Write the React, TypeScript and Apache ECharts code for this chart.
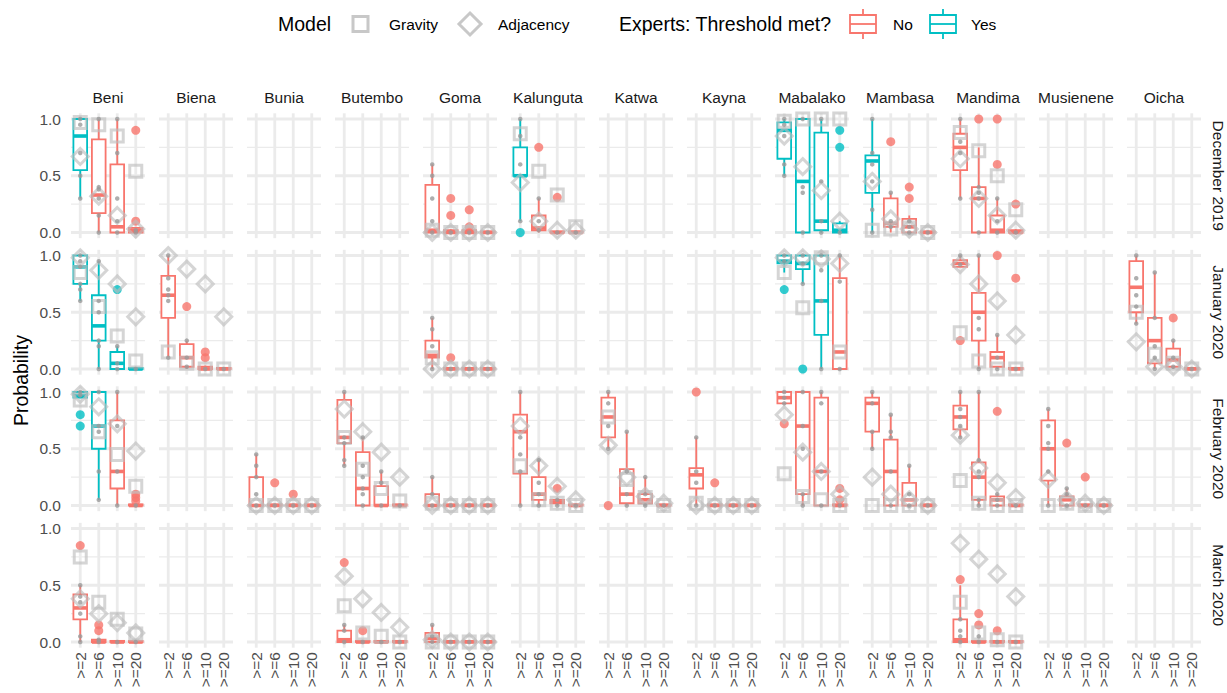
import React, { useEffect, useRef } from "react";
import * as echarts from "echarts";

const districts = ["Beni", "Biena", "Bunia", "Butembo", "Goma", "Kalunguta", "Katwa", "Kayna", "Mabalako", "Mambasa", "Mandima", "Musienene", "Oicha"];
const months = ["December 2019", "January 2020", "February 2020", "March 2020"];
const thresholds = [">=2", ">=6", ">=10", ">=20"];

// [district, threshold index, lower whisker, q1, median, q3, upper whisker, threshold met (1 = Yes)]
type Box = [string, number, number, number, number, number, number, number];
// [district, threshold index, value]
type Pt = [string, number, number];
// [district, threshold index, values]
type Dots = [string, number, number[]];
// [district, values per threshold]
type Model = [string, number[]];

const boxesDec2019: Box[] = [
  ["Beni", 0, 0.30, 0.55, 0.85, 1.00, 1.00, 1],
  ["Beni", 1, 0.00, 0.17, 0.33, 0.82, 1.00, 0],
  ["Beni", 2, 0.00, 0.00, 0.05, 0.60, 1.00, 0],
  ["Beni", 3, 0.00, 0.00, 0.02, 0.04, 0.05, 0],
  ["Goma", 0, 0.00, 0.00, 0.02, 0.42, 0.60, 0],
  ["Goma", 1, 0.00, 0.00, 0.00, 0.02, 0.03, 0],
  ["Goma", 2, 0.00, 0.00, 0.00, 0.02, 0.03, 0],
  ["Goma", 3, 0.00, 0.00, 0.00, 0.01, 0.01, 0],
  ["Kalunguta", 0, 0.10, 0.50, 0.50, 0.75, 1.00, 1],
  ["Kalunguta", 1, 0.00, 0.02, 0.04, 0.15, 0.30, 0],
  ["Kalunguta", 2, 0.00, 0.00, 0.00, 0.01, 0.01, 0],
  ["Kalunguta", 3, 0.00, 0.00, 0.00, 0.01, 0.01, 0],
  ["Mabalako", 0, 0.50, 0.65, 0.90, 0.97, 1.00, 1],
  ["Mabalako", 1, 0.00, 0.00, 0.45, 1.00, 1.00, 1],
  ["Mabalako", 2, 0.00, 0.02, 0.10, 0.88, 1.00, 1],
  ["Mabalako", 3, 0.00, 0.00, 0.02, 0.08, 0.10, 1],
  ["Mambasa", 0, 0.00, 0.35, 0.63, 0.68, 1.00, 1],
  ["Mambasa", 1, 0.00, 0.05, 0.08, 0.30, 0.35, 0],
  ["Mambasa", 2, 0.00, 0.00, 0.05, 0.12, 0.15, 0],
  ["Mambasa", 3, 0.00, 0.00, 0.00, 0.01, 0.01, 0],
  ["Mandima", 0, 0.30, 0.55, 0.75, 0.87, 1.00, 0],
  ["Mandima", 1, 0.00, 0.00, 0.30, 0.40, 0.75, 0],
  ["Mandima", 2, 0.00, 0.00, 0.02, 0.15, 0.30, 0],
  ["Mandima", 3, 0.00, 0.00, 0.00, 0.02, 0.03, 0],
];
const boxesJan2020: Box[] = [
  ["Beni", 0, 0.60, 0.75, 0.90, 1.00, 1.00, 1],
  ["Beni", 1, 0.00, 0.25, 0.38, 0.65, 0.95, 1],
  ["Beni", 2, 0.00, 0.00, 0.05, 0.15, 0.20, 1],
  ["Beni", 3, 0.00, 0.00, 0.00, 0.01, 0.01, 1],
  ["Biena", 0, 0.10, 0.45, 0.65, 0.82, 1.00, 0],
  ["Biena", 1, 0.00, 0.02, 0.10, 0.22, 0.25, 0],
  ["Biena", 2, 0.00, 0.00, 0.00, 0.02, 0.03, 0],
  ["Biena", 3, 0.00, 0.00, 0.00, 0.01, 0.01, 0],
  ["Goma", 0, 0.00, 0.10, 0.12, 0.25, 0.45, 0],
  ["Goma", 1, 0.00, 0.00, 0.00, 0.01, 0.01, 0],
  ["Goma", 2, 0.00, 0.00, 0.00, 0.01, 0.01, 0],
  ["Goma", 3, 0.00, 0.00, 0.00, 0.01, 0.01, 0],
  ["Mabalako", 0, 0.85, 0.93, 0.95, 1.00, 1.00, 1],
  ["Mabalako", 1, 0.75, 0.88, 0.93, 1.00, 1.00, 1],
  ["Mabalako", 2, 0.00, 0.30, 0.60, 1.00, 1.00, 1],
  ["Mabalako", 3, 0.00, 0.00, 0.15, 0.80, 1.00, 0],
  ["Mandima", 0, 0.90, 0.90, 0.93, 0.96, 1.00, 0],
  ["Mandima", 1, 0.00, 0.25, 0.50, 0.67, 1.00, 0],
  ["Mandima", 2, 0.00, 0.02, 0.10, 0.15, 0.30, 0],
  ["Mandima", 3, 0.00, 0.00, 0.00, 0.01, 0.01, 0],
  ["Oicha", 0, 0.40, 0.50, 0.72, 0.95, 1.00, 0],
  ["Oicha", 1, 0.00, 0.05, 0.25, 0.45, 0.85, 0],
  ["Oicha", 2, 0.00, 0.02, 0.08, 0.18, 0.25, 0],
  ["Oicha", 3, 0.00, 0.00, 0.00, 0.01, 0.01, 0],
];
const boxesFeb2020: Box[] = [
  ["Beni", 0, 0.95, 0.95, 0.97, 1.00, 1.00, 1],
  ["Beni", 1, 0.05, 0.50, 0.70, 1.00, 1.00, 1],
  ["Beni", 2, 0.00, 0.15, 0.30, 0.75, 1.00, 0],
  ["Beni", 3, 0.00, 0.00, 0.00, 0.01, 0.01, 0],
  ["Bunia", 0, 0.00, 0.00, 0.00, 0.25, 0.45, 0],
  ["Bunia", 1, 0.00, 0.00, 0.00, 0.01, 0.01, 0],
  ["Bunia", 2, 0.00, 0.00, 0.00, 0.01, 0.01, 0],
  ["Bunia", 3, 0.00, 0.00, 0.00, 0.01, 0.01, 0],
  ["Butembo", 0, 0.35, 0.55, 0.60, 0.93, 1.00, 0],
  ["Butembo", 1, 0.00, 0.00, 0.15, 0.47, 0.60, 0],
  ["Butembo", 2, 0.00, 0.00, 0.00, 0.17, 0.30, 0],
  ["Butembo", 3, 0.00, 0.00, 0.00, 0.01, 0.01, 0],
  ["Goma", 0, 0.00, 0.00, 0.00, 0.10, 0.25, 0],
  ["Goma", 1, 0.00, 0.00, 0.00, 0.01, 0.01, 0],
  ["Goma", 2, 0.00, 0.00, 0.00, 0.01, 0.01, 0],
  ["Goma", 3, 0.00, 0.00, 0.00, 0.01, 0.01, 0],
  ["Kalunguta", 0, 0.00, 0.28, 0.65, 0.80, 1.00, 0],
  ["Kalunguta", 1, 0.00, 0.05, 0.10, 0.25, 0.40, 0],
  ["Kalunguta", 2, 0.00, 0.02, 0.03, 0.05, 0.05, 0],
  ["Kalunguta", 3, 0.00, 0.00, 0.00, 0.01, 0.01, 0],
  ["Katwa", 0, 0.50, 0.60, 0.78, 0.95, 1.00, 0],
  ["Katwa", 1, 0.00, 0.02, 0.10, 0.32, 0.65, 0],
  ["Katwa", 2, 0.00, 0.02, 0.05, 0.10, 0.25, 0],
  ["Katwa", 3, 0.00, 0.00, 0.00, 0.01, 0.01, 0],
  ["Kayna", 0, 0.00, 0.15, 0.27, 0.33, 0.60, 0],
  ["Kayna", 1, 0.00, 0.00, 0.00, 0.01, 0.01, 0],
  ["Kayna", 2, 0.00, 0.00, 0.00, 0.01, 0.01, 0],
  ["Kayna", 3, 0.00, 0.00, 0.00, 0.01, 0.01, 0],
  ["Mabalako", 0, 0.90, 0.90, 0.95, 1.00, 1.00, 0],
  ["Mabalako", 1, 0.00, 0.10, 0.70, 1.00, 1.00, 0],
  ["Mabalako", 2, 0.00, 0.00, 0.30, 0.95, 1.00, 0],
  ["Mabalako", 3, 0.00, 0.00, 0.00, 0.01, 0.01, 0],
  ["Mambasa", 0, 0.50, 0.65, 0.90, 0.95, 1.00, 0],
  ["Mambasa", 1, 0.00, 0.00, 0.30, 0.58, 0.80, 0],
  ["Mambasa", 2, 0.00, 0.00, 0.05, 0.20, 0.35, 0],
  ["Mambasa", 3, 0.00, 0.00, 0.00, 0.01, 0.01, 0],
  ["Mandima", 0, 0.60, 0.67, 0.78, 0.88, 1.00, 0],
  ["Mandima", 1, 0.00, 0.05, 0.25, 0.38, 1.00, 0],
  ["Mandima", 2, 0.00, 0.00, 0.05, 0.08, 0.10, 0],
  ["Mandima", 3, 0.00, 0.00, 0.00, 0.01, 0.01, 0],
  ["Musienene", 0, 0.00, 0.22, 0.50, 0.75, 0.85, 0],
  ["Musienene", 1, 0.00, 0.00, 0.05, 0.08, 0.15, 0],
  ["Musienene", 2, 0.00, 0.00, 0.00, 0.01, 0.01, 0],
  ["Musienene", 3, 0.00, 0.00, 0.00, 0.01, 0.01, 0],
];
const boxesMar2020: Box[] = [
  ["Beni", 0, 0.00, 0.20, 0.30, 0.42, 0.50, 0],
  ["Beni", 1, 0.00, 0.00, 0.00, 0.02, 0.02, 0],
  ["Beni", 2, 0.00, 0.00, 0.00, 0.01, 0.01, 0],
  ["Beni", 3, 0.00, 0.00, 0.00, 0.01, 0.01, 0],
  ["Butembo", 0, 0.00, 0.00, 0.02, 0.10, 0.15, 0],
  ["Butembo", 1, 0.00, 0.00, 0.00, 0.01, 0.01, 0],
  ["Butembo", 2, 0.00, 0.00, 0.00, 0.01, 0.01, 0],
  ["Butembo", 3, 0.00, 0.00, 0.00, 0.01, 0.01, 0],
  ["Goma", 0, 0.00, 0.00, 0.03, 0.08, 0.15, 0],
  ["Goma", 1, 0.00, 0.00, 0.00, 0.01, 0.01, 0],
  ["Goma", 2, 0.00, 0.00, 0.00, 0.01, 0.01, 0],
  ["Goma", 3, 0.00, 0.00, 0.00, 0.01, 0.01, 0],
  ["Mandima", 0, 0.00, 0.00, 0.02, 0.20, 0.50, 0],
  ["Mandima", 1, 0.00, 0.00, 0.00, 0.01, 0.01, 0],
  ["Mandima", 2, 0.00, 0.00, 0.00, 0.01, 0.01, 0],
  ["Mandima", 3, 0.00, 0.00, 0.00, 0.01, 0.01, 0],
];

const outliersDec2019: Pt[] = [
  ["Beni", 3, 0.90], ["Beni", 3, 0.10],
  ["Goma", 1, 0.30], ["Goma", 1, 0.15], ["Goma", 2, 0.20], ["Goma", 2, 0.05],
  ["Kalunguta", 0, 0.00], ["Kalunguta", 1, 0.75], ["Kalunguta", 2, 0.31],
  ["Mabalako", 3, 0.90], ["Mabalako", 3, 0.75],
  ["Mambasa", 1, 0.80], ["Mambasa", 2, 0.40], ["Mambasa", 2, 0.30],
  ["Mandima", 1, 1.00], ["Mandima", 2, 1.00], ["Mandima", 2, 0.60], ["Mandima", 3, 0.25],
];
const outliersJan2020: Pt[] = [
  ["Beni", 2, 0.70],
  ["Biena", 1, 0.55], ["Biena", 2, 0.15], ["Biena", 2, 0.10],
  ["Goma", 1, 0.10],
  ["Mabalako", 0, 0.70], ["Mabalako", 1, 0.00],
  ["Mandima", 0, 0.25], ["Mandima", 2, 1.00], ["Mandima", 3, 0.80],
  ["Oicha", 2, 0.45],
];
const outliersFeb2020: Pt[] = [
  ["Beni", 0, 0.80], ["Beni", 0, 0.70], ["Beni", 3, 0.10], ["Beni", 3, 0.07], ["Beni", 3, 0.04],
  ["Bunia", 1, 0.20], ["Bunia", 2, 0.10],
  ["Kalunguta", 2, 0.15],
  ["Katwa", 0, 0.00],
  ["Kayna", 0, 1.00], ["Kayna", 1, 0.20],
  ["Mabalako", 0, 0.72], ["Mabalako", 3, 0.15], ["Mabalako", 3, 0.05],
  ["Mandima", 2, 0.83],
  ["Musienene", 1, 0.55], ["Musienene", 2, 0.25],
];
const outliersMar2020: Pt[] = [
  ["Beni", 0, 0.85], ["Beni", 1, 0.15], ["Beni", 1, 0.10],
  ["Butembo", 0, 0.70], ["Butembo", 1, 0.10],
  ["Mandima", 0, 0.55], ["Mandima", 1, 0.25], ["Mandima", 1, 0.15], ["Mandima", 2, 0.10],
];

const dotsDec2019: Dots[] = [
  ["Beni", 0, [1.0, 0.95, 0.7, 0.5, 0.3]], ["Beni", 1, [1.0, 0.4, 0.38, 0.3, 0.15, 0.0]], ["Beni", 2, [1.0, 0.7, 0.3, 0.1, 0.0]], ["Beni", 3, [0.02, 0.0]],
  ["Goma", 0, [0.6, 0.5, 0.3, 0.1, 0.0]], ["Goma", 1, [0.0]], ["Goma", 2, [0.0]], ["Goma", 3, [0.0]],
  ["Kalunguta", 0, [1.0, 0.85, 0.6, 0.1]], ["Kalunguta", 1, [0.3, 0.1, 0.02]], ["Kalunguta", 2, [0.0]], ["Kalunguta", 3, [0.0]],
  ["Mabalako", 0, [1.0, 0.95, 0.85, 0.6, 0.5]], ["Mabalako", 1, [1.0, 0.4, 0.35, 0.0]], ["Mabalako", 2, [1.0, 0.45, 0.1, 0.0]], ["Mabalako", 3, [0.0]],
  ["Mambasa", 0, [1.0, 0.7, 0.6, 0.45, 0.2, 0.0]], ["Mambasa", 1, [0.35, 0.1, 0.05]], ["Mambasa", 2, [0.1, 0.05, 0.0]], ["Mambasa", 3, [0.0]],
  ["Mandima", 0, [1.0, 0.8, 0.7, 0.3]], ["Mandima", 1, [0.4, 0.35, 0.3, 0.0]], ["Mandima", 2, [0.3, 0.1, 0.0]], ["Mandima", 3, [0.0]],
];
const dotsJan2020: Dots[] = [
  ["Beni", 0, [1.0, 0.95, 0.9, 0.75, 0.7, 0.6]], ["Beni", 1, [0.95, 0.6, 0.5, 0.25, 0.2, 0.0]], ["Beni", 2, [0.2, 0.05, 0.0]], ["Beni", 3, [0.0]],
  ["Biena", 0, [1.0, 0.8, 0.7, 0.65, 0.6, 0.1]], ["Biena", 1, [0.25, 0.1, 0.02]], ["Biena", 2, [0.0]], ["Biena", 3, [0.0]],
  ["Goma", 0, [0.45, 0.35, 0.2, 0.0]], ["Goma", 1, [0.0]], ["Goma", 2, [0.0]], ["Goma", 3, [0.0]],
  ["Mabalako", 0, [1.0, 0.95]], ["Mabalako", 1, [1.0, 0.93, 0.75]], ["Mabalako", 2, [1.0, 0.87, 0.6, 0.0]], ["Mabalako", 3, [1.0, 0.77, 0.0]],
  ["Mandima", 0, [1.0, 0.92]], ["Mandima", 1, [1.0, 0.45, 0.35, 0.0]], ["Mandima", 2, [0.3, 0.1, 0.0]], ["Mandima", 3, [0.0]],
  ["Oicha", 0, [1.0, 0.8, 0.65, 0.55, 0.4]], ["Oicha", 1, [0.85, 0.45, 0.2, 0.1, 0.0]], ["Oicha", 2, [0.25, 0.1, 0.02]], ["Oicha", 3, [0.0]],
];
const dotsFeb2020: Dots[] = [
  ["Beni", 0, [1.0, 0.97]], ["Beni", 1, [1.0, 0.7, 0.65, 0.3, 0.05]], ["Beni", 2, [1.0, 0.7, 0.3, 0.0]], ["Beni", 3, [0.0]],
  ["Bunia", 0, [0.45, 0.35, 0.25, 0.1, 0.0]], ["Bunia", 1, [0.0]], ["Bunia", 2, [0.0]], ["Bunia", 3, [0.0]],
  ["Butembo", 0, [1.0, 0.6, 0.55, 0.4, 0.35]], ["Butembo", 1, [0.6, 0.35, 0.25, 0.15, 0.1, 0.0]], ["Butembo", 2, [0.3, 0.2, 0.0]], ["Butembo", 3, [0.0]],
  ["Goma", 0, [0.25, 0.1, 0.0]], ["Goma", 1, [0.0]], ["Goma", 2, [0.0]], ["Goma", 3, [0.0]],
  ["Kalunguta", 0, [1.0, 0.6, 0.45, 0.3, 0.0]], ["Kalunguta", 1, [0.4, 0.2, 0.1, 0.0]], ["Kalunguta", 2, [0.05, 0.0]], ["Kalunguta", 3, [0.0]],
  ["Katwa", 0, [1.0, 0.9, 0.7, 0.5]], ["Katwa", 1, [0.65, 0.3, 0.1, 0.0]], ["Katwa", 2, [0.25, 0.1, 0.0]], ["Katwa", 3, [0.0]],
  ["Kayna", 0, [0.6, 0.3, 0.2, 0.0]], ["Kayna", 1, [0.0]], ["Kayna", 2, [0.0]], ["Kayna", 3, [0.0]],
  ["Mabalako", 0, [1.0, 0.95, 0.9]], ["Mabalako", 1, [1.0, 0.7, 0.5, 0.1, 0.0]], ["Mabalako", 2, [1.0, 0.9, 0.3, 0.0]], ["Mabalako", 3, [0.0]],
  ["Mambasa", 0, [1.0, 0.9, 0.65, 0.5]], ["Mambasa", 1, [0.8, 0.65, 0.6, 0.3, 0.0]], ["Mambasa", 2, [0.35, 0.1, 0.0]], ["Mambasa", 3, [0.0]],
  ["Mandima", 0, [1.0, 0.85, 0.78, 0.7, 0.6]], ["Mandima", 1, [1.0, 0.4, 0.3, 0.25, 0.05, 0.0]], ["Mandima", 2, [0.1, 0.05, 0.0]], ["Mandima", 3, [0.0]],
  ["Musienene", 0, [0.85, 0.7, 0.55, 0.5, 0.3, 0.0]], ["Musienene", 1, [0.15, 0.1, 0.0]], ["Musienene", 2, [0.0]], ["Musienene", 3, [0.0]],
];
const dotsMar2020: Dots[] = [
  ["Beni", 0, [0.5, 0.4, 0.35, 0.25, 0.05, 0.0]], ["Beni", 1, [0.02, 0.0]], ["Beni", 2, [0.0]], ["Beni", 3, [0.0]],
  ["Butembo", 0, [0.15, 0.1, 0.0]], ["Butembo", 1, [0.0]], ["Butembo", 2, [0.0]], ["Butembo", 3, [0.0]],
  ["Goma", 0, [0.15, 0.05, 0.0]], ["Goma", 1, [0.0]], ["Goma", 2, [0.0]], ["Goma", 3, [0.0]],
  ["Mandima", 0, [0.2, 0.1, 0.05, 0.0]], ["Mandima", 1, [0.05, 0.0]], ["Mandima", 2, [0.0]], ["Mandima", 3, [0.0]],
];

const gravityDec2019: Model[] = [
  ["Beni", [0.97, 0.95, 0.85, 0.54]], ["Goma", [0.02, 0, 0, 0]], ["Kalunguta", [0.87, 0.54, 0.33, 0.05]],
  ["Mabalako", [0.98, 1.0, 1.0, 1.0]], ["Mambasa", [0.02, 0.03, 0.04, 0.0]], ["Mandima", [0.88, 0.72, 0.5, 0.2]],
];
const gravityJan2020: Model[] = [
  ["Beni", [0.85, 0.55, 0.29, 0.07]], ["Biena", [0.15, 0.05, 0.0, 0.0]], ["Goma", [0.1, 0, 0, 0]],
  ["Mabalako", [0.85, 0.54, 0.98, 0.15]], ["Mandima", [0.32, 0.07, 0.0, 0.0]], ["Oicha", [0.5, 0.13, 0.05, 0.0]],
];
const gravityFeb2020: Model[] = [
  ["Beni", [0.93, 0.65, 0.45, 0.17]], ["Bunia", [0, 0, 0, 0]], ["Butembo", [0.6, 0.32, 0.15, 0.04]],
  ["Goma", [0.02, 0, 0, 0]], ["Kalunguta", [0.35, 0.05, 0.02, 0.0]], ["Katwa", [0.78, 0.23, 0.07, 0.0]],
  ["Kayna", [0.02, 0, 0, 0]], ["Mabalako", [0.28, 0.08, 0.05, 0.0]], ["Mambasa", [0.0, 0.0, 0.0, 0.0]],
  ["Mandima", [0.22, 0.02, 0.0, 0.0]], ["Musienene", [0.0, 0.02, 0.0, 0.0]],
];
const gravityMar2020: Model[] = [
  ["Beni", [0.75, 0.35, 0.2, 0.07]], ["Butembo", [0.32, 0.08, 0.05, 0.0]], ["Goma", [0, 0, 0, 0]],
  ["Mandima", [0.35, 0.08, 0.02, 0.0]],
];

const adjacencyDec2019: Model[] = [
  ["Beni", [0.67, 0.32, 0.15, 0.03]], ["Goma", [0, 0, 0, 0]], ["Kalunguta", [0.44, 0.1, 0.02, 0.02]],
  ["Mabalako", [0.85, 0.58, 0.37, 0.1]], ["Mambasa", [0.45, 0.12, 0.03, 0.0]], ["Mandima", [0.65, 0.3, 0.15, 0.02]],
];
const adjacencyJan2020: Model[] = [
  ["Beni", [0.98, 0.87, 0.75, 0.46]], ["Biena", [1.0, 0.88, 0.75, 0.46]], ["Goma", [0, 0, 0, 0]],
  ["Mabalako", [0.98, 0.98, 0.97, 0.93]], ["Mandima", [0.92, 0.75, 0.6, 0.3]], ["Oicha", [0.24, 0.02, 0.02, 0.0]],
];
const adjacencyFeb2020: Model[] = [
  ["Beni", [0.98, 0.87, 0.72, 0.48]], ["Bunia", [0, 0, 0, 0]], ["Butembo", [0.85, 0.65, 0.47, 0.25]],
  ["Goma", [0, 0, 0, 0]], ["Kalunguta", [0.7, 0.35, 0.17, 0.05]], ["Katwa", [0.53, 0.25, 0.08, 0.02]],
  ["Kayna", [0, 0, 0, 0]], ["Mabalako", [0.8, 0.47, 0.3, 0.1]], ["Mambasa", [0.25, 0.1, 0.05, 0.0]],
  ["Mandima", [0.62, 0.33, 0.2, 0.07]], ["Musienene", [0.23, 0.05, 0.02, 0.0]],
];
const adjacencyMar2020: Model[] = [
  ["Beni", [0.38, 0.25, 0.17, 0.08]], ["Butembo", [0.58, 0.38, 0.26, 0.13]], ["Goma", [0.02, 0, 0, 0]],
  ["Mandima", [0.87, 0.73, 0.6, 0.4]],
];

const RED = "#F8766D";
const CYAN = "#00BFC4";
const GRID = "#EBEBEB";
const MODEL_GREY = "rgba(190,190,190,0.8)";
const DOT_GREY = "#9A9A9A";
const FONT = "Liberation Sans, Arial, Helvetica, sans-serif";
const SMALL = 15.5;
const BIG = 19.5;

const PANEL_LEFT = 71;
const PANEL_PITCH_X = 88;
const PANEL_W = 74;
const ROW_TOP = 119;
const ROW_PITCH = 136.5;
const ROW_H = 113.5;

function gridRender(params: any, api: any) {
  const cs = params.coordSys;
  const top = cs.y - cs.height * 0.05;
  const bottom = cs.y + cs.height * 1.05;
  const children: any[] = [];
  [0.25, 0.75].forEach((v) => {
    const y = api.coord([0, v])[1];
    children.push({ type: "line", shape: { x1: cs.x, y1: y, x2: cs.x + cs.width, y2: y }, style: { stroke: GRID, lineWidth: 1.4 } });
  });
  [0, 0.5, 1].forEach((v) => {
    const y = api.coord([0, v])[1];
    children.push({ type: "line", shape: { x1: cs.x, y1: y, x2: cs.x + cs.width, y2: y }, style: { stroke: GRID, lineWidth: 2.8 } });
  });
  for (let k = 0; k < thresholds.length; k++) {
    const x = api.coord([k, 0])[0];
    children.push({ type: "line", shape: { x1: x, y1: top, x2: x, y2: bottom }, style: { stroke: GRID, lineWidth: 2.8 } });
  }
  return { type: "group", children };
}

function boxRender(_params: any, api: any) {
  const t = api.value(0);
  const color = api.value(6) ? CYAN : RED;
  const p = api.coord([t, api.value(1)]);
  const cx = p[0];
  const yLo = p[1];
  const yQ1 = api.coord([t, api.value(2)])[1];
  const yMed = api.coord([t, api.value(3)])[1];
  const yQ3 = api.coord([t, api.value(4)])[1];
  const yHi = api.coord([t, api.value(5)])[1];
  const bw = api.size([1, 0])[0] * 0.74;
  return {
    type: "group",
    children: [
      { type: "line", shape: { x1: cx, y1: yHi, x2: cx, y2: yQ3 }, style: { stroke: color, lineWidth: 1.8 } },
      { type: "line", shape: { x1: cx, y1: yQ1, x2: cx, y2: yLo }, style: { stroke: color, lineWidth: 1.8 } },
      { type: "rect", shape: { x: cx - bw / 2, y: yQ3, width: bw, height: yQ1 - yQ3 }, style: { fill: "#ffffff", stroke: color, lineWidth: 1.8 } },
      { type: "line", shape: { x1: cx - bw / 2, y1: yMed, x2: cx + bw / 2, y2: yMed }, style: { stroke: color, lineWidth: 3.6 } },
    ],
  };
}

function buildOption() {
  const monthly = [
    { boxes: boxesDec2019, outliers: outliersDec2019, dots: dotsDec2019, gravity: gravityDec2019, adjacency: adjacencyDec2019 },
    { boxes: boxesJan2020, outliers: outliersJan2020, dots: dotsJan2020, gravity: gravityJan2020, adjacency: adjacencyJan2020 },
    { boxes: boxesFeb2020, outliers: outliersFeb2020, dots: dotsFeb2020, gravity: gravityFeb2020, adjacency: adjacencyFeb2020 },
    { boxes: boxesMar2020, outliers: outliersMar2020, dots: dotsMar2020, gravity: gravityMar2020, adjacency: adjacencyMar2020 },
  ];
  const grids: any[] = [];
  const xAxes: any[] = [];
  const yAxes: any[] = [];
  const series: any[] = [];
  const graphics: any[] = [];

  for (let r = 0; r < months.length; r++) {
    for (let c = 0; c < districts.length; c++) {
      const idx = r * districts.length + c;
      grids.push({ left: PANEL_LEFT + c * PANEL_PITCH_X, top: ROW_TOP + r * ROW_PITCH, width: PANEL_W, height: ROW_H });
      xAxes.push({
        type: "category", gridIndex: idx, data: thresholds, boundaryGap: true,
        axisLine: { show: false }, axisTick: { show: false }, splitLine: { show: false },
        axisLabel: { show: r === months.length - 1, rotate: 90, interval: 0, fontSize: SMALL, color: "#4D4D4D", margin: 10, fontFamily: FONT },
      });
      yAxes.push({
        type: "value", gridIndex: idx, min: 0, max: 1, interval: 0.5,
        axisLine: { show: false }, axisTick: { show: false }, splitLine: { show: false },
        axisLabel: { show: c === 0, formatter: (v: number) => v.toFixed(1), fontSize: SMALL, color: "#4D4D4D", margin: 10, fontFamily: FONT },
      });
      series.push({ type: "custom", xAxisIndex: idx, yAxisIndex: idx, renderItem: gridRender, data: [[0, 0]], silent: true, z: 1 });
    }
  }

  monthly.forEach((m, r) => {
    const used = Array.from(new Set(m.boxes.map((b) => b[0])));
    used.forEach((d) => {
      const idx = r * districts.length + districts.indexOf(d);
      const bx = m.boxes.filter((b) => b[0] === d);
      const metOf = (t: number) => (bx.find((b) => b[1] === t) || [])[7] || 0;
      series.push({
        type: "custom", xAxisIndex: idx, yAxisIndex: idx, renderItem: boxRender, z: 2, silent: true,
        data: bx.map((b) => [b[1], b[2], b[3], b[4], b[5], b[6], b[7]]),
      });
      series.push({
        type: "scatter", xAxisIndex: idx, yAxisIndex: idx, z: 3, clip: false, silent: true, symbolSize: 9,
        data: m.outliers.filter((o) => o[0] === d).map((o) => ({ value: [o[1], o[2]], itemStyle: { color: metOf(o[1]) ? CYAN : RED } })),
      });
      const g = m.gravity.find((x) => x[0] === d);
      if (g) {
        series.push({
          type: "scatter", xAxisIndex: idx, yAxisIndex: idx, z: 4, clip: false, silent: true, symbol: "rect", symbolSize: 12,
          itemStyle: { color: "rgba(0,0,0,0)", borderColor: MODEL_GREY, borderWidth: 3 },
          data: g[1].map((v, t) => [t, v]),
        });
      }
      const a = m.adjacency.find((x) => x[0] === d);
      if (a) {
        series.push({
          type: "scatter", xAxisIndex: idx, yAxisIndex: idx, z: 4, clip: false, silent: true, symbol: "diamond", symbolSize: 16,
          itemStyle: { color: "rgba(0,0,0,0)", borderColor: MODEL_GREY, borderWidth: 3 },
          data: a[1].map((v, t) => [t, v]),
        });
      }
      const dd: number[][] = [];
      m.dots.filter((x) => x[0] === d).forEach((x) => x[2].forEach((v) => dd.push([x[1], v])));
      series.push({
        type: "scatter", xAxisIndex: idx, yAxisIndex: idx, z: 5, clip: false, silent: true, symbolSize: 4.5,
        itemStyle: { color: DOT_GREY }, data: dd,
      });
    });
  });

  // strip labels
  districts.forEach((d, c) => {
    graphics.push({
      type: "text", x: PANEL_LEFT + c * PANEL_PITCH_X + PANEL_W / 2, y: 97,
      style: { text: d, fontSize: SMALL, fill: "#1A1A1A", align: "center", verticalAlign: "middle", fontFamily: FONT },
    });
  });
  months.forEach((mo, r) => {
    graphics.push({
      type: "text", x: 1218, y: ROW_TOP + r * ROW_PITCH + ROW_H / 2, rotation: -Math.PI / 2,
      style: { text: mo, fontSize: SMALL, fill: "#1A1A1A", align: "center", verticalAlign: "middle", fontFamily: FONT },
    });
  });
  graphics.push({
    type: "text", x: 21, y: ROW_TOP + 1.5 * ROW_PITCH + ROW_H / 2, rotation: Math.PI / 2,
    style: { text: "Probability", fontSize: BIG, fill: "#000000", align: "center", verticalAlign: "middle", fontFamily: FONT },
  });

  // legend
  const LY = 24;
  const txt = (x: number, text: string, size: number) => ({
    type: "text", x, y: LY, style: { text, fontSize: size, fill: "#000000", align: "left", verticalAlign: "middle", fontFamily: FONT },
  });
  graphics.push(txt(278, "Model", BIG));
  graphics.push({ type: "rect", shape: { x: 353, y: LY - 7.5, width: 15, height: 15 }, style: { fill: "none", stroke: "#C8C8C8", lineWidth: 3 } });
  graphics.push(txt(389, "Gravity", SMALL));
  graphics.push({ type: "polygon", shape: { points: [[470, LY - 11], [481, LY], [470, LY + 11], [459, LY]] }, style: { fill: "none", stroke: "#C8C8C8", lineWidth: 3 } });
  graphics.push(txt(498, "Adjacency", SMALL));
  graphics.push(txt(619, "Experts: Threshold met?", BIG));
  const boxKey = (cx: number, color: string) => {
    graphics.push({ type: "line", shape: { x1: cx, y1: LY - 15, x2: cx, y2: LY + 15 }, style: { stroke: color, lineWidth: 1.8 } });
    graphics.push({ type: "rect", shape: { x: cx - 13, y: LY - 9, width: 26, height: 18 }, style: { fill: "#ffffff", stroke: color, lineWidth: 1.8 } });
    graphics.push({ type: "line", shape: { x1: cx - 13, y1: LY, x2: cx + 13, y2: LY }, style: { stroke: color, lineWidth: 1.8 } });
  };
  boxKey(863, RED);
  graphics.push(txt(893, "No", SMALL));
  boxKey(943, CYAN);
  graphics.push(txt(971, "Yes", SMALL));

  return {
    animation: false,
    backgroundColor: "#ffffff",
    textStyle: { fontFamily: FONT },
    grid: grids,
    xAxis: xAxes,
    yAxis: yAxes,
    series,
    graphic: { elements: graphics },
  };
}

export default function App() {
  const ref = useRef<HTMLDivElement>(null);
  useEffect(() => {
    document.body.style.margin = "0";
    const chart = echarts.init(ref.current as HTMLDivElement, null, { renderer: "svg" });
    chart.setOption(buildOption() as any);
    return () => chart.dispose();
  }, []);
  return <div ref={ref} style={{ width: 1227, height: 693 }} />;
}
